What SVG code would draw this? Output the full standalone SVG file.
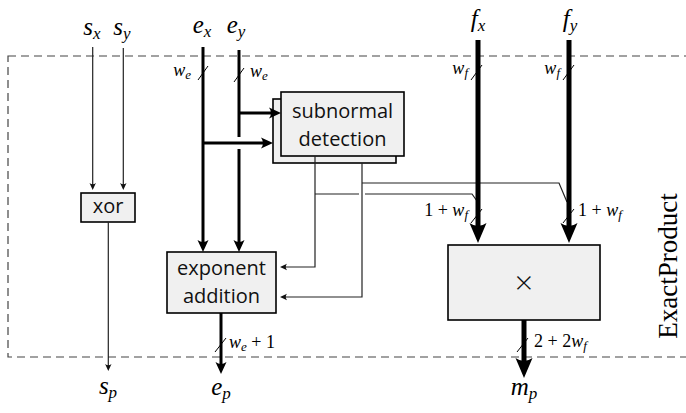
<svg xmlns="http://www.w3.org/2000/svg" width="686" height="413" viewBox="0 0 686 413">
<style>
.box{fill:#f0f0f0;stroke:#000;stroke-width:1.6}
.bt{font-family:"Open Sans","DejaVu Sans",sans-serif;font-size:20px;fill:#111;text-anchor:middle}
.m{font-family:"Liberation Serif","DejaVu Serif",serif;font-style:italic;font-size:25px;fill:#000}
.w{font-family:"Liberation Serif","DejaVu Serif",serif;font-style:italic;font-size:18px;fill:#000}
.r{font-style:normal}
.thin{fill:none;stroke:#222;stroke-width:1.2}
.med{fill:none;stroke:#000;stroke-width:3}
.big{fill:none;stroke:#000;stroke-width:5}
.sl{stroke:#000;stroke-width:1}
</style>
<defs>
<marker id="aT" markerUnits="userSpaceOnUse" viewBox="0 -4 8 8" markerWidth="8" markerHeight="8" refX="3" refY="0" orient="auto" overflow="visible"><path d="M0,-3.2 L7,0 L0,3.2 Q2.5,0 0,-3.2Z" fill="#111"/></marker>
<marker id="aM" markerUnits="userSpaceOnUse" viewBox="0 -6 12 12" markerWidth="12" markerHeight="12" refX="6" refY="0" orient="auto" overflow="visible"><path d="M0,-5.5 L12,0 L0,5.5 Q4,0 0,-5.5Z" fill="#000"/></marker>
<marker id="aB" markerUnits="userSpaceOnUse" viewBox="0 -9 20 18" markerWidth="20" markerHeight="18" refX="10" refY="0" orient="auto" overflow="visible"><path d="M0,-8.5 L20,0 L0,8.5 Q6,0 0,-8.5Z" fill="#000"/></marker>
</defs>
<rect x="8" y="56" width="690" height="301" fill="none" stroke="#444" stroke-width="1.2" stroke-dasharray="8,5"/>
<text transform="translate(677,266) rotate(-90)" text-anchor="middle" style="font-family:'Liberation Serif','DejaVu Serif',serif;font-size:27px;fill:#000">ExactProduct</text>

<g id="xor"><rect class="box" x="81" y="193" width="54" height="29"/><text class="bt" x="108" y="213">xor</text></g>
<g id="subnormal-detection">
<rect class="box" x="273" y="99" width="123" height="64"/>
<rect class="box" x="281" y="92" width="123" height="64"/>
<text class="bt" x="342.5" y="118">subnormal</text><text class="bt" x="342.5" y="146">detection</text></g>
<g id="exponent-addition"><rect class="box" x="167" y="252" width="109" height="61"/><text class="bt" x="221.5" y="275">exponent</text><text class="bt" x="221.5" y="303">addition</text></g>
<g id="multiplier"><rect class="box" x="448" y="245" width="152" height="75"/><text class="bt" x="524" y="294" style="font-size:32px;font-weight:300">×</text></g>

<g id="labels">
<text class="m" x="92" y="35" text-anchor="middle">s<tspan font-size="17" dy="4">x</tspan></text>
<text class="m" x="122" y="35" text-anchor="middle">s<tspan font-size="17" dy="4">y</tspan></text>
<text class="m" x="202" y="33" text-anchor="middle">e<tspan font-size="17" dy="4">x</tspan></text>
<text class="m" x="236" y="33" text-anchor="middle">e<tspan font-size="17" dy="4">y</tspan></text>
<text class="m" x="478" y="27" text-anchor="middle">f<tspan font-size="17" dy="4">x</tspan></text>
<text class="m" x="570" y="27" text-anchor="middle">f<tspan font-size="17" dy="4">y</tspan></text>
<text class="m" x="108" y="394" text-anchor="middle">s<tspan font-size="17" dy="4">p</tspan></text>
<text class="m" x="221" y="395" text-anchor="middle">e<tspan font-size="17" dy="4">p</tspan></text>
<text class="m" x="524" y="395" text-anchor="middle">m<tspan font-size="17" dy="4">p</tspan></text>
<text class="w" x="191" y="76" text-anchor="end">w<tspan font-size="13" dy="3">e</tspan></text>
<text class="w" x="250" y="77">w<tspan font-size="13" dy="3">e</tspan></text>
<text class="w" x="468" y="74" text-anchor="end">w<tspan font-size="13" dy="3">f</tspan></text>
<text class="w" x="560" y="74" text-anchor="end">w<tspan font-size="13" dy="3">f</tspan></text>
<text class="w" x="468" y="216" text-anchor="end"><tspan class="r">1 + </tspan>w<tspan font-size="13" dy="3">f</tspan></text>
<text class="w" x="578" y="216"><tspan class="r">1 + </tspan>w<tspan font-size="13" dy="3">f</tspan></text>
<text class="w" x="229" y="348">w<tspan font-size="13" dy="3">e</tspan><tspan class="r" dy="-3"> + 1</tspan></text>
<text class="w" x="534" y="347"><tspan class="r">2 + 2</tspan>w<tspan font-size="13" dy="3">f</tspan></text>
</g>

<g id="connectors">
<line class="thin" x1="92.7" y1="47" x2="92.7" y2="186" marker-end="url(#aT)"/>
<line class="thin" x1="123.3" y1="48" x2="123.3" y2="186" marker-end="url(#aT)"/>
<line class="thin" x1="108.3" y1="222" x2="108.3" y2="367" marker-end="url(#aT)"/>
<line class="med" x1="203" y1="47" x2="203" y2="246" marker-end="url(#aM)"/>
<line class="med" x1="203" y1="143" x2="267" y2="143" marker-end="url(#aM)"/>
<line class="med" x1="239" y1="50" x2="239" y2="137"/>
<line class="med" x1="239" y1="149" x2="239" y2="246" marker-end="url(#aM)"/>
<line class="med" x1="239" y1="113" x2="275" y2="113" marker-end="url(#aM)"/>
<line class="med" x1="221" y1="313" x2="221" y2="368" marker-end="url(#aM)"/>
<polyline class="thin" points="315,156 315,267 284,267" marker-end="url(#aT)"/>
<polyline class="thin" points="315,194 359,194"/>
<polyline class="thin" points="365,194 472,194 477,201"/>
<polyline class="thin" stroke="#000" points="362,163 362,297 284,297" marker-end="url(#aT)"/>
<polyline class="thin" stroke="#000" points="362,183 559,183 567,202"/>
<line class="big" x1="478" y1="40" x2="478" y2="233" marker-end="url(#aB)"/>
<line class="big" x1="569" y1="40" x2="569" y2="233" marker-end="url(#aB)"/>
<line class="big" x1="524" y1="320" x2="524" y2="368" marker-end="url(#aB)"/>
<line class="sl" x1="198" y1="80" x2="208" y2="66"/>
<line class="sl" x1="234" y1="82" x2="244" y2="68"/>
<line class="sl" x1="471" y1="80" x2="482" y2="65"/>
<line class="sl" x1="563" y1="80" x2="574" y2="65"/>
<line class="sl" x1="471" y1="223" x2="482" y2="209"/>
<line class="sl" x1="563" y1="223" x2="574" y2="209"/>
<line class="sl" x1="215" y1="352" x2="226" y2="338"/>
<line class="sl" x1="517" y1="352" x2="528" y2="338"/>
</g>
</svg>
